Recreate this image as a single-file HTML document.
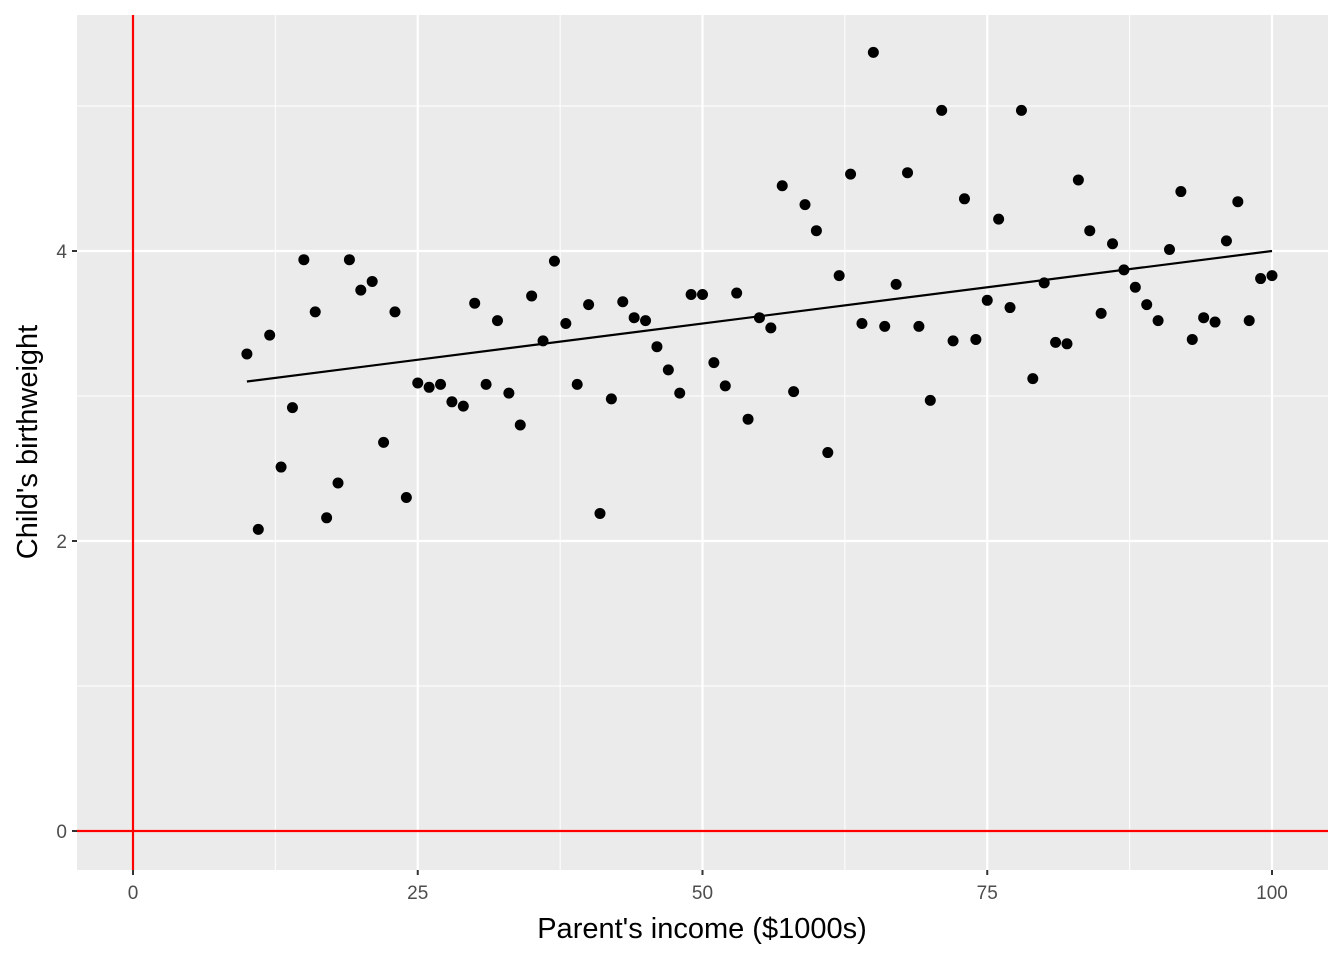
<!DOCTYPE html>
<html><head><meta charset="utf-8"><style>
body{margin:0;background:#fff;font-family:"Liberation Sans",sans-serif;}
</style></head><body>
<svg id="chart" width="1344" height="960" xmlns="http://www.w3.org/2000/svg">
<rect x="77" y="15" width="1251" height="855" fill="#ebebeb"/>
<g id="grid"></g><g id="marks"></g><g id="axes"></g>
<text x="702" y="938" font-size="29" text-anchor="middle" fill="#000">Parent's income ($1000s)</text>
<text transform="translate(37,442) rotate(-90)" font-size="29" text-anchor="middle" fill="#000">Child's birthweight</text>
</svg>
<script>
const incomes=[];for(let i=10;i<=100;i++)incomes.push(i);
const weights=[3.29,2.08,3.42,2.51,2.92,3.94,3.58,2.16,2.40,3.94,3.73,3.79,2.68,3.58,2.30,3.09,3.06,3.08,2.96,2.93,3.64,3.08,3.52,3.02,2.80,3.69,3.38,3.93,3.50,3.08,3.63,2.19,2.98,3.65,3.54,3.52,3.34,3.18,3.02,3.70,3.70,3.23,3.07,3.71,2.84,3.54,3.47,4.45,3.03,4.32,4.14,2.61,3.83,4.53,3.50,5.37,3.48,3.77,4.54,3.48,2.97,4.97,3.38,4.36,3.39,3.66,4.22,3.61,4.97,3.12,3.78,3.37,3.36,4.49,4.14,3.57,4.05,3.87,3.75,3.63,3.52,4.01,4.41,3.39,3.54,3.51,4.07,4.34,3.52,3.81,3.83];
const fitCoef=[3.0,0.01];
const xTicks=[0,25,50,75,100];
const yTicks=[0,2,4];
const X=v=>133+v*11.39, Y=v=>831-v*145;
const NS="http://www.w3.org/2000/svg";
function mk(p,t,a){const e=document.createElementNS(NS,t);for(const k in a)e.setAttribute(k,a[k]);p.appendChild(e);return e;}
const grid=document.getElementById('grid'),marks=document.getElementById('marks'),axes=document.getElementById('axes');
[1,3,5].forEach(v=>{const l=mk(grid,'line',{x1:77,x2:1328,y1:Y(v),y2:Y(v),stroke:'#fff','stroke-width':1});

});
[12.5,37.5,62.5,87.5].forEach(v=>{const l=mk(grid,'line',{x1:X(v),x2:X(v),y1:15,y2:870,stroke:'#fff','stroke-width':1});

});
yTicks.forEach(v=>{const l=mk(grid,'line',{x1:77,x2:1328,y1:Y(v),y2:Y(v),stroke:'#fff','stroke-width':2.2});


const t=mk(axes,'line',{x1:72,x2:77,y1:Y(v),y2:Y(v),stroke:'#333','stroke-width':2});


const tx=mk(axes,'text',{x:67,y:Y(v)+7,'font-size':19,'text-anchor':'end',fill:'#4d4d4d'});tx.textContent=v;

});
xTicks.forEach(v=>{const l=mk(grid,'line',{x1:X(v),x2:X(v),y1:15,y2:870,stroke:'#fff','stroke-width':2.2});


const t=mk(axes,'line',{x1:X(v),x2:X(v),y1:870,y2:875,stroke:'#333','stroke-width':2});


const tx=mk(axes,'text',{x:X(v),y:899,'font-size':19,'text-anchor':'middle',fill:'#4d4d4d'});tx.textContent=v;

});
const rv=mk(marks,'line',{x1:X(0),x2:X(0),y1:15,y2:870,stroke:'#f00','stroke-width':2.2});


const rh=mk(marks,'line',{x1:77,x2:1328,y1:Y(0),y2:Y(0),stroke:'#f00','stroke-width':2.2});


incomes.forEach((x,i)=>{const c=mk(marks,'circle',{cx:X(x),cy:Y(weights[i]),r:5.5,fill:'#000'});

});
const a=fitCoef[0],b=fitCoef[1],x0=Math.min(...incomes),x1=Math.max(...incomes);
const fl=mk(marks,'line',{x1:X(x0),y1:Y(a+b*x0),x2:X(x1),y2:Y(a+b*x1),stroke:'#000','stroke-width':2.2});


</script>
</body></html>
